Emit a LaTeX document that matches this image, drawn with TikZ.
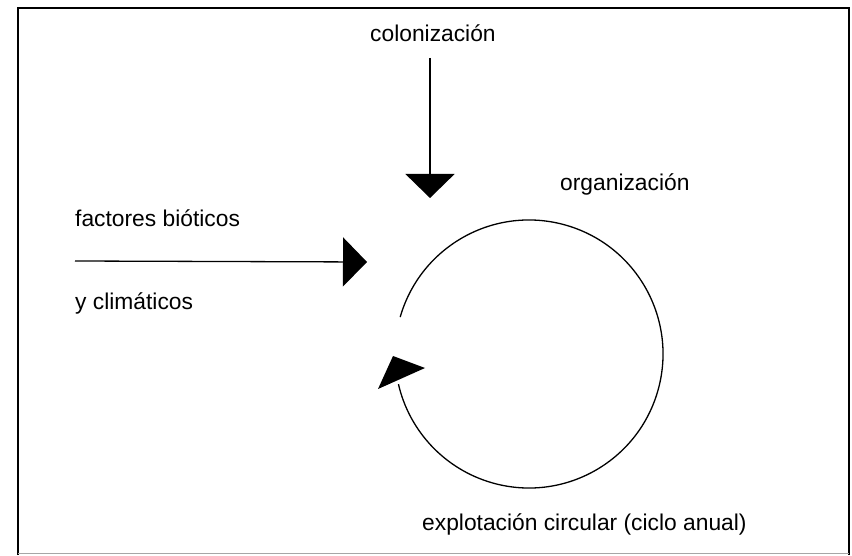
\documentclass[tikz,border=0pt]{standalone}
\usepackage{fontspec}
\setmainfont{Liberation Sans}
\usetikzlibrary{arrows.meta}
\begin{document}
\begin{tikzpicture}[x=1pt,y=1pt,
  lbl/.style={inner sep=0pt,anchor=base west,font=\fontsize{22.8}{27}\selectfont},
  feed/.style={line width=1.3pt,-{Triangle[length=24pt,width=49pt]}},
  frame/.style={line width=1.8pt},
  cyc/.style={line width=1.3pt}]
\useasboundingbox (0,0) rectangle (852,555);
\draw[frame] (18,0) -- (18,547) -- (849,547) -- (849,0);
\draw[line width=0.6pt,black!35] (18,2) -- (849,2);
% labels
\node[lbl] (colon) at (370,513) {colonización};
\node[lbl] (organ) at (560,364) {organización};
\node[lbl] (fact) at (75,328) {factores bióticos};
\node[lbl] (clim) at (75,245) {y climáticos};
\node[lbl] (expl) at (422,25) {explotación circular (ciclo anual)};
% arrows
\coordinate (ctop) at (430,497);
\coordinate (ctip) at (430,357);
\draw[feed] (ctop) -- (ctip);
\coordinate (fstart) at (75,294);
\coordinate (ftip) at (367,293);
\draw[feed] (fstart) -- (ftip);
% cycle
\coordinate (cc) at (529,201);
\draw[cyc] ([shift={(164:134)}]cc) arc[start angle=164, end angle=-167, radius=134];
\fill (393,199) -- (425,187) -- (378,166) -- cycle;
\end{tikzpicture}
\end{document}
